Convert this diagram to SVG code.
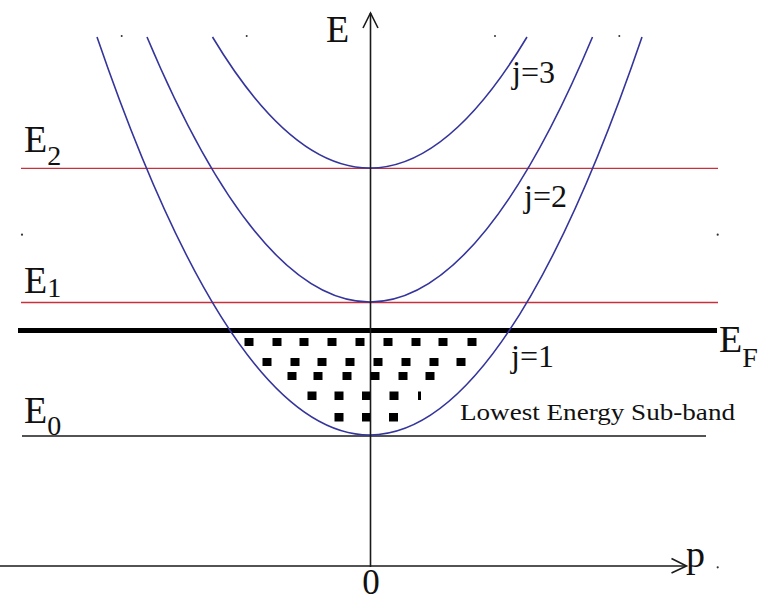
<svg xmlns="http://www.w3.org/2000/svg" width="760" height="602" viewBox="0 0 760 602">
<style>
.t{font-family:"Liberation Serif","Times New Roman",serif;fill:#111}
.big{font-size:38px}
.sub{font-size:28px}
.j{font-size:32px}
.band{fill:none;stroke:#34349c;stroke-width:1.6}
.lvl{stroke:#c8303c;stroke-width:1.3}
.ax{stroke:#1a1a1a;stroke-width:1.6;fill:none}
.dot{fill:#000}
.spk{fill:#333}
</style>
<rect width="760" height="602" fill="#fff"/>
<g id="levels">
<line id="E2-line" class="lvl" x1="21" y1="168.3" x2="718" y2="168.3"/>
<line id="E1-line" class="lvl" x1="21" y1="302.5" x2="718" y2="302.5"/>
<line id="EF-line" x1="18" y1="330.5" x2="717" y2="330.5" stroke="#000" stroke-width="5"/>
<line id="E0-line" x1="22" y1="436" x2="706" y2="436" stroke="#1a1a1a" stroke-width="1.4"/>
</g>
<g id="connectors">
<path id="band-j1" class="band" d="M97,37 Q370,833 642,37"/>
<path id="band-j2" class="band" d="M147,37 Q370,567 592.5,37"/>
<path id="band-j3" class="band" d="M212.5,37 Q370,299 527,37"/>
<line class="ax" x1="370.5" y1="567" x2="370.5" y2="13"/>
<path class="ax" d="M363,28 L370.5,13 L378,28"/>
<line class="ax" x1="0" y1="566" x2="686" y2="566"/>
<path class="ax" d="M671.5,558.5 L686.5,566 L671.5,573"/>
</g>
<g id="fermi-dots">
<rect class="dot" x="244.5" y="338" width="9" height="8"/>
<rect class="dot" x="272.5" y="338" width="9" height="8"/>
<rect class="dot" x="299.5" y="338" width="9" height="8"/>
<rect class="dot" x="327.5" y="338" width="9" height="8"/>
<rect class="dot" x="355.5" y="338" width="9" height="8"/>
<rect class="dot" x="383.5" y="338" width="9" height="8"/>
<rect class="dot" x="411.5" y="338" width="9" height="8"/>
<rect class="dot" x="438.5" y="338" width="9" height="8"/>
<rect class="dot" x="467.5" y="338" width="9" height="8"/>
<rect class="dot" x="262.5" y="358" width="9" height="8"/>
<rect class="dot" x="290.5" y="358" width="9" height="8"/>
<rect class="dot" x="317.5" y="358" width="9" height="8"/>
<rect class="dot" x="345.5" y="358" width="9" height="8"/>
<rect class="dot" x="373.5" y="358" width="9" height="8"/>
<rect class="dot" x="401.5" y="358" width="9" height="8"/>
<rect class="dot" x="429.5" y="358" width="9" height="8"/>
<rect class="dot" x="456.5" y="358" width="9" height="8"/>
<rect class="dot" x="287.5" y="372" width="9" height="8"/>
<rect class="dot" x="313.5" y="372" width="9" height="8"/>
<rect class="dot" x="342.5" y="372" width="9" height="8"/>
<rect class="dot" x="370.5" y="372" width="9" height="8"/>
<rect class="dot" x="398.5" y="372" width="9" height="8"/>
<rect class="dot" x="425.5" y="372" width="9" height="8"/>
<rect class="dot" x="307.5" y="391.5" width="9" height="8.5"/>
<rect class="dot" x="334.5" y="391.5" width="9" height="8.5"/>
<rect class="dot" x="362" y="391.5" width="8" height="8.5"/>
<rect class="dot" x="389.5" y="391.5" width="9" height="8.5"/>
<rect class="dot" x="418" y="391.5" width="3" height="8.5"/>
<rect class="dot" x="334.5" y="413" width="9" height="8.5"/>
<rect class="dot" x="362" y="413" width="8" height="8.5"/>
<rect class="dot" x="389" y="413" width="9" height="8.5"/>
</g>
<g id="specks">
<circle class="spk" cx="121.7" cy="36" r="1"/>
<circle class="spk" cx="246.7" cy="36" r="1"/>
<circle class="spk" cx="495" cy="36" r="1"/>
<circle class="spk" cx="619.3" cy="36" r="1"/>
<circle class="spk" cx="22" cy="234.7" r="1.1"/>
<circle class="spk" cx="717.7" cy="234.7" r="1.1"/>
<circle class="spk" cx="717.7" cy="567.3" r="1.1"/>
</g>
<g id="label-E"><text class="t big" x="326" y="42">E</text></g>
<g id="label-p"><text class="t big" x="686" y="567">p</text></g>
<g id="label-0"><text class="t" font-size="35" x="371" y="594" text-anchor="middle">0</text></g>
<g id="label-E2"><text class="t big" x="24" y="152">E<tspan class="sub" dy="13">2</tspan></text></g>
<g id="label-E1"><text class="t big" x="24" y="293">E<tspan class="sub" dy="4">1</tspan></text></g>
<g id="label-E0"><text class="t big" x="24" y="423">E<tspan class="sub" dy="12">0</tspan></text></g>
<g id="label-EF"><text class="t big" x="719" y="352">E<tspan class="sub" font-size="22" dy="15">F</tspan></text></g>
<g id="label-j3"><text class="t j" x="512" y="83">j=3</text></g>
<g id="label-j2"><text class="t j" x="524" y="207">j=2</text></g>
<g id="label-j1"><text class="t j" x="511" y="367">j=1</text></g>
<g id="label-band"><text class="t" font-size="24" x="460" y="420" textLength="275" lengthAdjust="spacingAndGlyphs">Lowest Energy Sub-band</text></g>
</svg>
